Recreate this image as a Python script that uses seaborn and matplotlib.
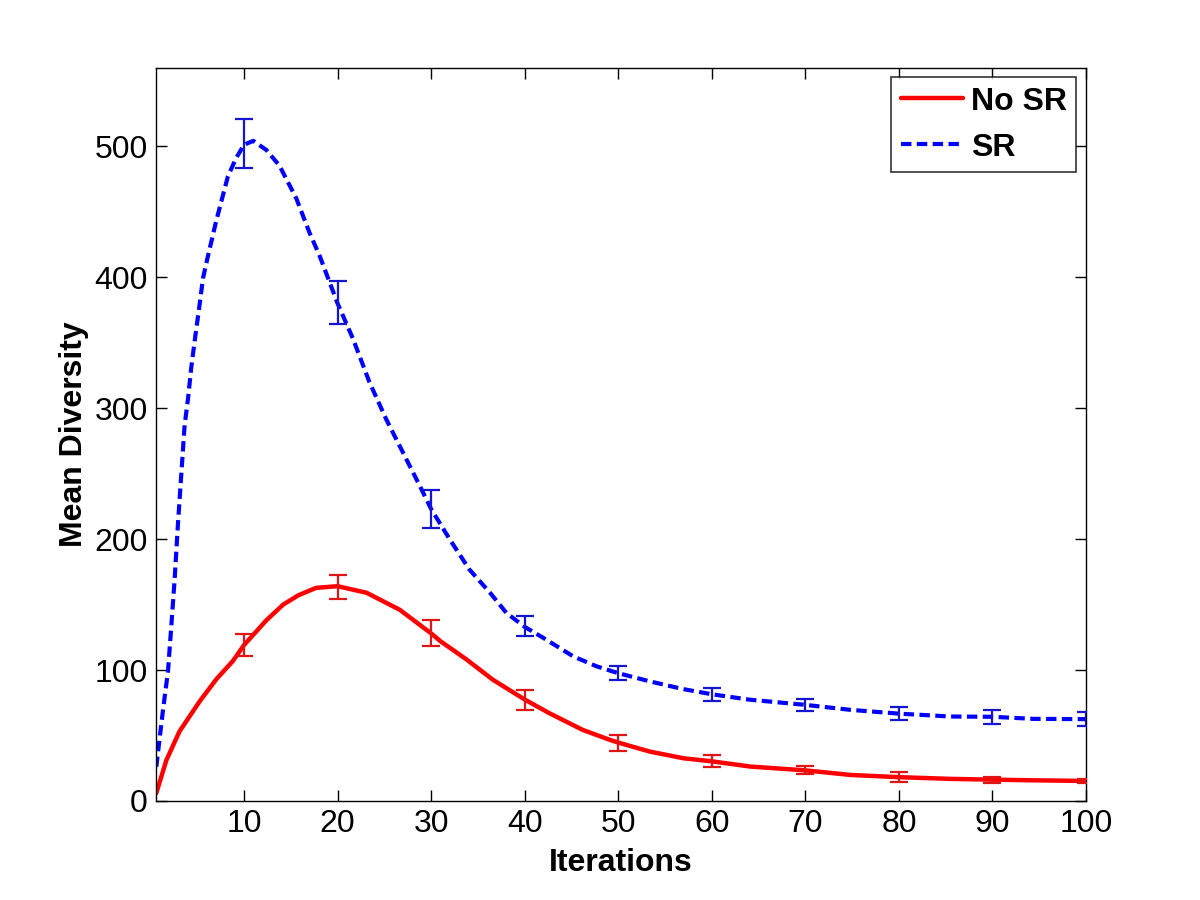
import numpy as np
import pandas as pd
import matplotlib
matplotlib.use("Agg")
import matplotlib.pyplot as plt
import seaborn as sns

# ---- data ----
# curve without SR (solid red)
nosr_x = [0.63, 1.7, 3.1, 5.26, 7.05, 8.83, 10, 12.4, 14.2, 15.8, 17.7, 20,
          23.1, 26.65, 30, 31, 33.8, 36.6, 40, 42.65, 46.2, 49.1, 50, 53.4,
          57, 60, 64.1, 70, 74.8, 80, 85.5, 90, 94.4, 100]
nosr_y = [6, 31, 53, 76, 93, 107, 119, 138, 150, 157, 162.7, 164,
          159, 146, 128, 122, 108, 92.6, 77.5, 67, 54.3, 46.7, 44.6, 37.7,
          32.6, 30.3, 26.3, 23.4, 19.9, 18.2, 16.9, 16.3, 15.8, 15.3]

# curve with SR (dashed blue)
sr_x = [0.63, 1.34, 1.88, 2.23, 2.59, 2.95, 3.3, 3.66, 4.02, 4.37, 4.73, 5.26,
        5.62, 6.15, 7.04, 8.29, 9.18, 10, 11, 12.4, 13.8, 15.6, 17.0, 18.1,
        20, 21.65, 23.4, 25.2, 27.0, 28.8, 30, 32.0, 34.1, 36.3, 38.05, 40,
        42.0, 45.2, 47.7, 50, 53.4, 56.9, 60, 64.1, 70, 74.8, 80, 85.5, 90,
        94.4, 100]
sr_y = [26, 69, 99, 133, 169, 212, 249, 287, 307, 331, 351, 379,
        399, 416, 443, 477, 491, 501, 504, 497, 485, 460, 434, 416,
        380, 353, 320, 291.5, 266, 240.5, 223, 199.7, 176.7, 159, 143.6, 133,
        124.5, 110.4, 102.8, 97.6, 91.3, 85.5, 81.5, 77.3, 73.4, 69.6, 66.7,
        64.5, 64.3, 62.7, 62.5]

# error bars every 10 iterations
err_x = [10, 20, 30, 40, 50, 60, 70, 80, 90, 100]
nosr_mean = [119.4, 163.5, 128.3, 77, 44.4, 30.8, 23.7, 18.3, 16.3, 15.3]
nosr_err = [8.4, 9, 9.7, 7.9, 6.1, 4.5, 3.3, 3.5, 2.3, 1.5]
sr_mean = [502, 380.5, 223, 133.4, 97.6, 81.5, 73.4, 66.7, 64.3, 62.5]
sr_err = [19, 16.5, 14.4, 7.7, 5.2, 4.8, 4.5, 4.7, 5.4, 5.1]

sns.set_style("white")
plt.rcParams["font.family"] = ["Liberation Sans", "DejaVu Sans"]
plt.rcParams["text.color"] = "black"
plt.rcParams["axes.labelcolor"] = "black"

fig = plt.figure(figsize=(12, 9), dpi=100)
ax = fig.add_axes([0.13, 0.11, 0.775, 0.815])

nosr_df = pd.DataFrame({"Iterations": nosr_x, "Mean Diversity": nosr_y})
sr_df = pd.DataFrame({"Iterations": sr_x, "Mean Diversity": sr_y})

sns.lineplot(data=nosr_df, x="Iterations", y="Mean Diversity", ax=ax,
             color="#ff0000", linewidth=3.2, label="No SR", sort=False)
sns.lineplot(data=sr_df, x="Iterations", y="Mean Diversity", ax=ax,
             color="#0000ff", linewidth=3, label="SR", sort=False,
             dashes=False, linestyle=(0, (2.5, 1.3)))

ax.errorbar(err_x, nosr_mean, yerr=nosr_err, fmt="none", ecolor="#e01515",
            elinewidth=1.6, capsize=6.8, capthick=1.6, zorder=3)
ax.errorbar(err_x, sr_mean, yerr=sr_err, fmt="none", ecolor="#1515d0",
            elinewidth=1.6, capsize=6.8, capthick=1.6, zorder=3)

ax.set_xlim(0.6, 100)
ax.set_ylim(0, 560)
ax.set_xticks(err_x)
ax.set_yticks([0, 100, 200, 300, 400, 500])

ax.set_xlabel("Iterations", fontsize=23, fontweight="bold", labelpad=6,
              color="black")
ax.set_ylabel("Mean Diversity", fontsize=23, fontweight="bold", labelpad=4,
              color="black")

ax.tick_params(axis="both", which="major", direction="in", length=8,
               width=1, colors="black", labelsize=23,
               top=True, right=True, bottom=True, left=True, pad=6)
for sp in ax.spines.values():
    sp.set_visible(True)
    sp.set_color("black")
    sp.set_linewidth(1)

leg = ax.legend(loc="upper right", fontsize=23, frameon=True, fancybox=False,
                borderaxespad=0.3, handlelength=1.95, handletextpad=0.25,
                borderpad=0.3, labelspacing=0.5)
leg.get_frame().set_edgecolor("black")
leg.get_frame().set_linewidth(1.2)
for t in leg.get_texts():
    t.set_fontweight("bold")
    t.set_color("black")

fig.savefig("out.png", dpi=100, facecolor="white")
